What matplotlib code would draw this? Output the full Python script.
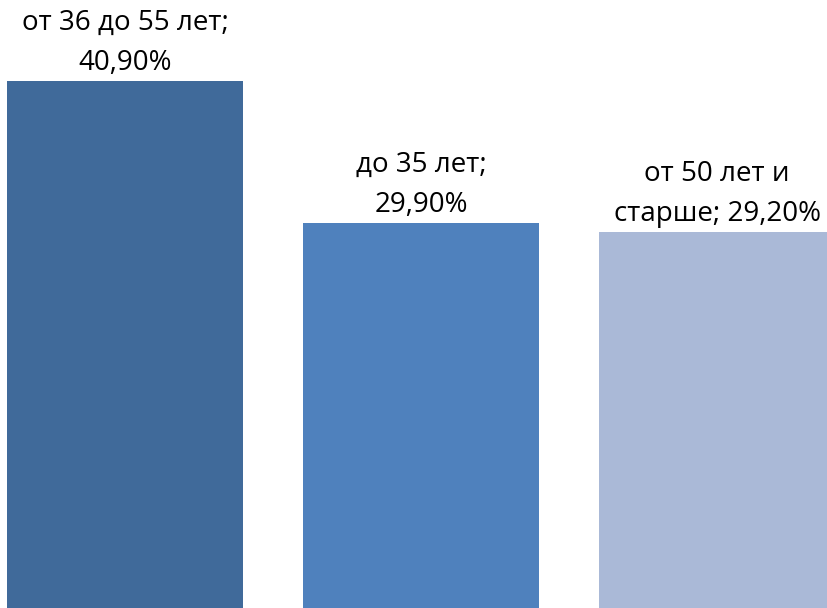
import matplotlib
matplotlib.use("Agg")
import matplotlib.pyplot as plt

categories = ["от 36 до 55 лет", "до 35 лет", "от 50 лет и\nстарше"]
values = [40.90, 29.90, 29.20]
labels = ["от 36 до 55 лет;\n40,90%", "до 35 лет;\n29,90%", "от 50 лет и\nстарше; 29,20%"]
colors = ["#406A9A", "#4F81BD", "#AAB9D7"]

fig = plt.figure(figsize=(8.27, 6.08), dpi=100)
ax = fig.add_axes([0, 0, 1, 1])
x = list(range(len(values)))
bars = ax.bar(x, values, width=0.8, color=colors)
for xi, v, lab in zip(x, values, labels):
    ax.annotate(lab, (xi, v), xytext=(0, 3), textcoords="offset points",
                ha="center", va="bottom", fontsize=20, family="Open Sans",
                linespacing=1.55, color="#000000")
ax.set_xlim(-0.4223, 2.3716)
ax.set_ylim(0, 47.19)
ax.axis("off")
fig.savefig("out.png", dpi=100)
